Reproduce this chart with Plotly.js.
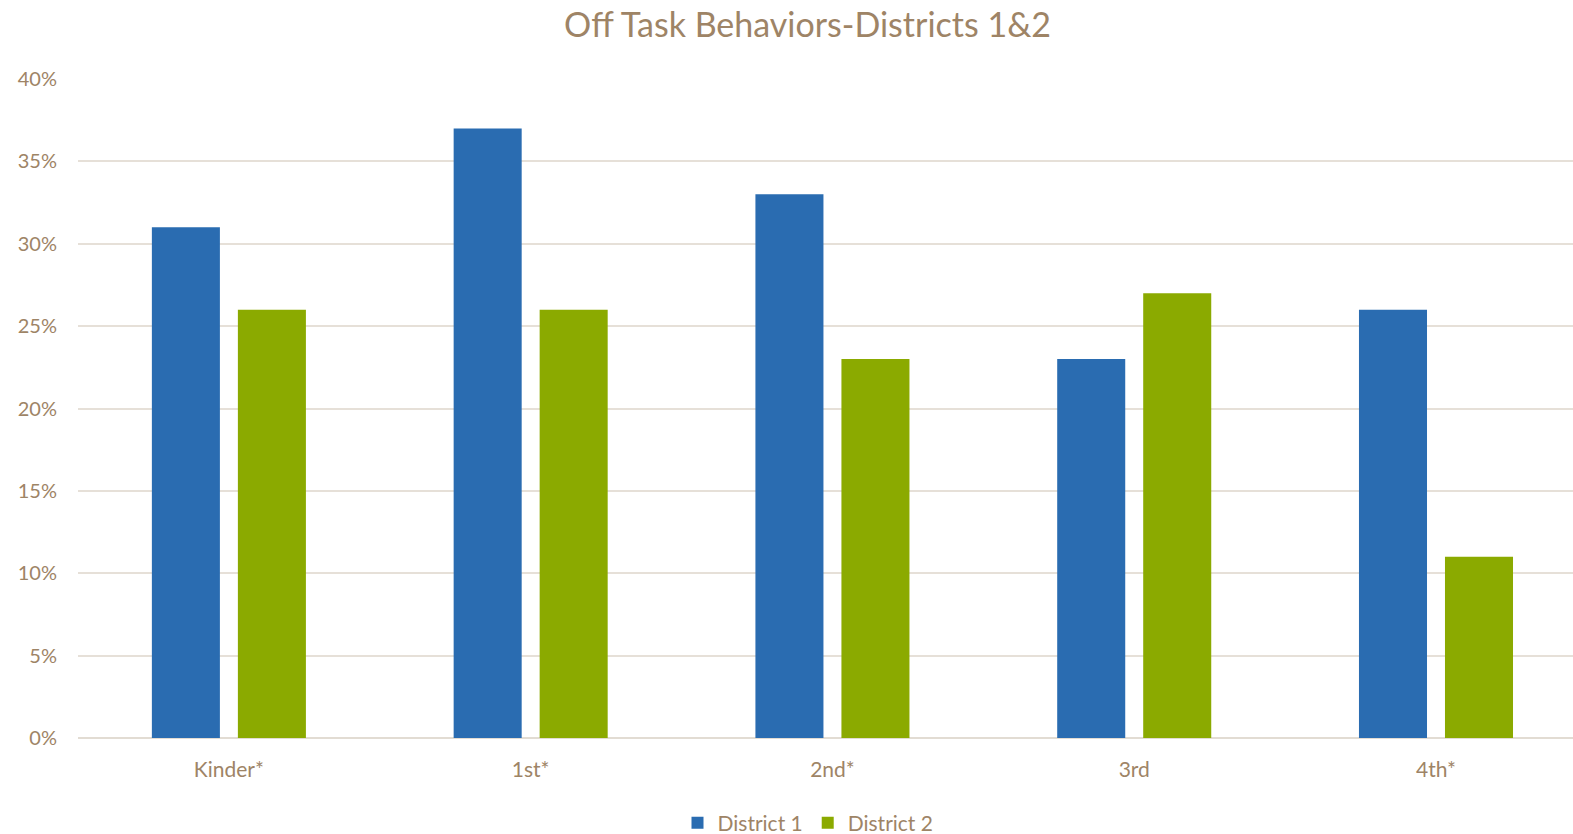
<!DOCTYPE html>
<html>
<head>
<meta charset="utf-8">
<script src="https://cdn.plot.ly/plotly-3.0.1.min.js"></script>
<style>html,body{margin:0;padding:0;background:#fff;}#chart{width:1573px;height:834px;}</style>
</head>
<body>
<div id="chart"></div>
<script>
const categories = ["Kinder*", "1st*", "2nd*", "3rd", "4th*"];
const district1 = [31, 37, 33, 23, 26];
const district2 = [26, 26, 23, 27, 11];
const seriesNames = ["District 1", "District 2"];
const yTicks = [0, 5, 10, 15, 20, 25, 30, 35, 40];

const textColor = "#9E8466";
const fontFamily = "Lato, 'Open Sans', sans-serif";

const traces = [
  {type: "bar", name: seriesNames[0], x: categories, y: district1, marker: {color: "#2A6CB1"}, hoverinfo: "x+y"},
  {type: "bar", name: seriesNames[1], x: categories, y: district2, marker: {color: "#8BAA00"}, hoverinfo: "x+y"}
];

const layout = {
  width: 1573, height: 834,
  paper_bgcolor: "#fff", plot_bgcolor: "#fff",
  margin: {l: 78, r: 0, t: 79, b: 96, pad: 0, autoexpand: false},
  font: {family: fontFamily, color: textColor, size: 20},
  title: {text: "Off Task Behaviors-Districts 1&2", font: {family: fontFamily, size: 34, color: textColor},
          x: 0.5134, xanchor: "center", xref: "container", y: 1 - 25/834, yanchor: "middle", yref: "container"},
  barmode: "group", bargap: 0.43, bargroupgap: 0.209,
  xaxis: {type: "category", range: [-0.5, 4.454], showgrid: false, zeroline: false, showline: false, ticks: "",
          automargin: false, tickfont: {size: 21, color: textColor}, ticklabelstandoff: 17, fixedrange: true},
  yaxis: {range: [0, 40], tickvals: yTicks, ticktext: yTicks.map(v => v + "%"), showgrid: true, gridcolor: "#E6E0D8", gridwidth: 2,
          zeroline: true, zerolinecolor: "#E2DCD3", zerolinewidth: 2, showline: false, ticks: "",
          automargin: false, tickfont: {size: 20, color: textColor}, ticklabelstandoff: 20, fixedrange: true},
  legend: {orientation: "h", xref: "container", x: 808 / 1573, xanchor: "center", yref: "container", y: 1 - 823/834, yanchor: "middle",
           font: {size: 21, color: textColor}, traceorder: "normal"},
  showlegend: true
};

Plotly.newPlot("chart", traces, layout, {displayModeBar: false, staticPlot: true});
</script>
</body>
</html>
